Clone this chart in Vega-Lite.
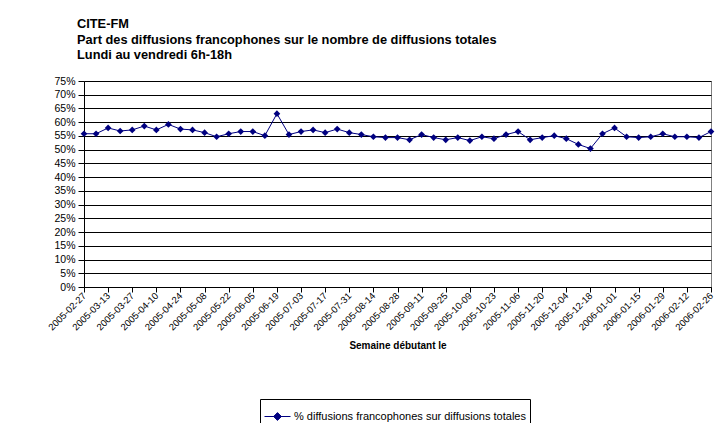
{
  "$schema": "https://vega.github.io/schema/vega-lite/v6.json",
  "width": 627,
  "height": 206,
  "autosize": {"type": "none"},
  "padding": {"left": 84, "top": 81, "right": 12, "bottom": 136},
  "background": "white",
  "title": {
    "text": ["CITE-FM", "Part des diffusions francophones sur le nombre de diffusions totales", "Lundi au vendredi 6h-18h"],
    "anchor": "start",
    "frame": "group",
    "dx": -7,
    "offset": 14,
    "font": "Liberation Sans",
    "fontSize": 12.8,
    "fontWeight": "bold",
    "lineHeight": 15.4,
    "color": "black"
  },
  "data": {
    "values": [
      {"semaine": "2005-02-27", "part": 0.558},
      {"semaine": "2005-03-06", "part": 0.558},
      {"semaine": "2005-03-13", "part": 0.579},
      {"semaine": "2005-03-20", "part": 0.568},
      {"semaine": "2005-03-27", "part": 0.572},
      {"semaine": "2005-04-03", "part": 0.586},
      {"semaine": "2005-04-10", "part": 0.572},
      {"semaine": "2005-04-17", "part": 0.592},
      {"semaine": "2005-04-24", "part": 0.575},
      {"semaine": "2005-05-01", "part": 0.572},
      {"semaine": "2005-05-08", "part": 0.562},
      {"semaine": "2005-05-15", "part": 0.547},
      {"semaine": "2005-05-22", "part": 0.558},
      {"semaine": "2005-05-29", "part": 0.566},
      {"semaine": "2005-06-05", "part": 0.566},
      {"semaine": "2005-06-12", "part": 0.551},
      {"semaine": "2005-06-19", "part": 0.631},
      {"semaine": "2005-06-26", "part": 0.555},
      {"semaine": "2005-07-03", "part": 0.566},
      {"semaine": "2005-07-10", "part": 0.572},
      {"semaine": "2005-07-17", "part": 0.562},
      {"semaine": "2005-07-24", "part": 0.575},
      {"semaine": "2005-07-31", "part": 0.562},
      {"semaine": "2005-08-07", "part": 0.555},
      {"semaine": "2005-08-14", "part": 0.547},
      {"semaine": "2005-08-21", "part": 0.544},
      {"semaine": "2005-08-28", "part": 0.544},
      {"semaine": "2005-09-04", "part": 0.536},
      {"semaine": "2005-09-11", "part": 0.555},
      {"semaine": "2005-09-18", "part": 0.544},
      {"semaine": "2005-09-25", "part": 0.536},
      {"semaine": "2005-10-02", "part": 0.544},
      {"semaine": "2005-10-09", "part": 0.533},
      {"semaine": "2005-10-16", "part": 0.547},
      {"semaine": "2005-10-23", "part": 0.540},
      {"semaine": "2005-10-30", "part": 0.555},
      {"semaine": "2005-11-06", "part": 0.566},
      {"semaine": "2005-11-13", "part": 0.536},
      {"semaine": "2005-11-20", "part": 0.544},
      {"semaine": "2005-11-27", "part": 0.551},
      {"semaine": "2005-12-04", "part": 0.540},
      {"semaine": "2005-12-11", "part": 0.519},
      {"semaine": "2005-12-18", "part": 0.504},
      {"semaine": "2005-12-25", "part": 0.558},
      {"semaine": "2006-01-01", "part": 0.579},
      {"semaine": "2006-01-08", "part": 0.547},
      {"semaine": "2006-01-15", "part": 0.544},
      {"semaine": "2006-01-22", "part": 0.547},
      {"semaine": "2006-01-29", "part": 0.558},
      {"semaine": "2006-02-05", "part": 0.547},
      {"semaine": "2006-02-12", "part": 0.547},
      {"semaine": "2006-02-19", "part": 0.544},
      {"semaine": "2006-02-26", "part": 0.566}
    ]
  },
  "mark": {
    "type": "line",
    "strokeWidth": 1,
    "point": {"shape": "diamond", "size": 45, "filled": true, "opacity": 1}
  },
  "encoding": {
    "x": {
      "field": "semaine",
      "type": "ordinal",
      "sort": null,
      "scale": {"type": "point", "padding": 0},
      "axis": {
        "title": "Semaine débutant le",
        "values": ["2005-02-27","2005-03-13","2005-03-27","2005-04-10","2005-04-24","2005-05-08","2005-05-22","2005-06-05","2005-06-19","2005-07-03","2005-07-17","2005-07-31","2005-08-14","2005-08-28","2005-09-11","2005-09-25","2005-10-09","2005-10-23","2005-11-06","2005-11-20","2005-12-04","2005-12-18","2006-01-01","2006-01-15","2006-01-29","2006-02-12","2006-02-26"],
        "labelAngle": -45,
        "labelAlign": "right",
        "labelBaseline": "middle",
        "labelFontSize": 9.5,
        "labelPadding": 2,
        "labelOverlap": false,
        "tickSize": 5,
        "grid": false,
        "titlePadding": 9
      }
    },
    "y": {
      "field": "part",
      "type": "quantitative",
      "scale": {"domain": [0, 0.75], "nice": false},
      "axis": {
        "title": null,
        "format": ".0%",
        "values": [0,0.05,0.1,0.15,0.2,0.25,0.3,0.35,0.4,0.45,0.5,0.55,0.6,0.65,0.7,0.75],
        "labelFontSize": 10.5,
        "tickSize": 6,
        "labelPadding": 3
      }
    },
    "color": {
      "datum": "% diffusions francophones sur diffusions totales",
      "type": "nominal",
      "scale": {"range": ["#000080"]},
      "legend": {
        "title": null,
        "orient": "none",
        "legendX": 176,
        "legendY": 318,
        "symbolType": "M-1,0H1M0,-0.3L0.3,0L0,0.3L-0.3,0Z",
        "symbolSize": 676,
        "symbolFillColor": "#000080",
        "symbolStrokeColor": "#000080",
        "symbolStrokeWidth": 1,
        "labelFontSize": 11,
        "labelLimit": 0,
        "labelColor": "black",
        "strokeColor": "black",
        "fillColor": "white",
        "padding": 4,
        "labelOffset": 3
      }
    }
  },
  "config": {
    "font": "Liberation Sans",
    "view": {"stroke": "#808080", "strokeWidth": 1},
    "axis": {
      "domainColor": "black",
      "tickColor": "black",
      "labelColor": "black",
      "gridColor": "black",
      "gridOpacity": 1,
      "gridWidth": 1,
      "titleColor": "black",
      "titleFontSize": 10,
      "titleFontWeight": "bold",
      "labelFont": "Liberation Sans",
      "titleFont": "Liberation Sans"
    }
  }
}
